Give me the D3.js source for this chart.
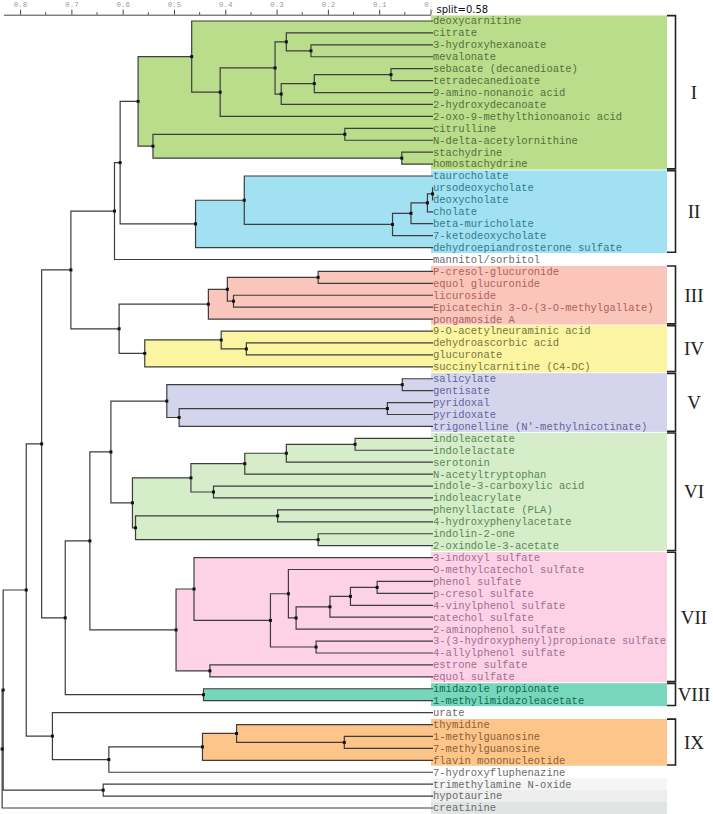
<!DOCTYPE html>
<html><head><meta charset="utf-8">
<script src="https://cdn.jsdelivr.net/npm/d3@7"></script>
<style>body{margin:0;background:#fff}svg{display:block}</style>
</head><body>
<svg id="chart" width="713" height="814"></svg>
<script>
// ---------- DATA ----------
const leaves = [
  "deoxycarnitine","citrate","3-hydroxyhexanoate","mevalonate","sebacate (decanedioate)",
  "tetradecanedioate","9-amino-nonanoic acid","2-hydroxydecanoate","2-oxo-9-methylthionoanoic acid",
  "citrulline","N-delta-acetylornithine","stachydrine","homostachydrine",
  "taurocholate","ursodeoxycholate","deoxycholate","cholate","beta-muricholate","7-ketodeoxycholate",
  "dehydroepiandrosterone sulfate","mannitol/sorbitol",
  "P-cresol-glucuronide","equol glucuronide","licuroside","Epicatechin 3-O-(3-O-methylgallate)","pongamoside A",
  "9-O-acetylneuraminic acid","dehydroascorbic acid","glucuronate","succinylcarnitine (C4-DC)",
  "salicylate","gentisate","pyridoxal","pyridoxate","trigonelline (N'-methylnicotinate)",
  "indoleacetate","indolelactate","serotonin","N-acetyltryptophan","indole-3-carboxylic acid",
  "indoleacrylate","phenyllactate (PLA)","4-hydroxyphenylacetate","indolin-2-one","2-oxindole-3-acetate",
  "3-indoxyl sulfate","O-methylcatechol sulfate","phenol sulfate","p-cresol sulfate","4-vinylphenol sulfate",
  "catechol sulfate","2-aminophenol sulfate","3-(3-hydroxyphenyl)propionate sulfate","4-allylphenol sulfate",
  "estrone sulfate","equol sulfate","imidazole propionate","1-methylimidazoleacetate","urate",
  "thymidine","1-methylguanosine","7-methylguanosine","flavin mononucleotide","7-hydroxyfluphenazine",
  "trimethylamine N-oxide","hypotaurine","creatinine"
];

// merges: [childA, childB, height]; number = leaf index, "mK" = merge K
const merges = [
  [4,5,0.077],        // m0
  ["m0",6,0.2265],    // m1
  ["m1",7,0.291],     // m2
  [2,3,0.233],        // m3
  [1,"m3",0.281],     // m4
  ["m4","m2",0.303],  // m5
  ["m5",8,0.410],     // m6
  [0,"m6",0.4655],    // m7
  [9,10,0.167],       // m8
  [11,12,0.056],      // m9
  ["m8","m9",0.541],  // m10
  ["m7","m10",0.570], // m11
  [14,15,-0.004],     // m12
  ["m12",16,0.006],   // m13
  ["m13",17,0.038],   // m14
  ["m14",18,0.074],   // m15
  [13,"m15",0.363],   // m16
  ["m16",19,0.458],   // m17
  ["m11","m17",0.605],// m18
  ["m18",20,0.616],   // m19
  [21,22,0.219],      // m20
  [23,24,0.384],      // m21
  ["m20","m21",0.396],// m22
  ["m22",25,0.433],   // m23
  [27,28,0.359],      // m24
  [26,"m24",0.408],   // m25
  ["m25",29,0.557],   // m26
  ["m23","m26",0.607],// m27
  ["m19","m27",0.701],// m28
  [30,31,0.055],      // m29
  [32,33,0.084],      // m30
  ["m30",34,0.490],   // m31
  ["m29","m31",0.514],// m32
  [35,36,0.147],      // m33
  ["m33",37,0.281],   // m34
  ["m34",38,0.362],   // m35
  [39,40,0.423],      // m36
  ["m35","m36",0.467],// m37
  [41,42,0.298],      // m38
  [43,44,0.219],      // m39
  ["m38","m39",0.575],// m40
  ["m37","m40",0.581],// m41
  ["m32","m41",0.623],// m42
  [47,48,0.104],      // m43
  ["m43",49,0.156],   // m44
  ["m44",50,0.196],   // m45
  ["m45",51,0.262],   // m46
  [46,"m46",0.277],   // m47
  [52,53,0.223],      // m48
  ["m47","m48",0.312],// m49
  [45,"m49",0.461],   // m50
  [54,55,0.430],      // m51
  ["m50","m51",0.496],// m52
  ["m42","m52",0.664],// m53
  [56,57,0.4425],     // m54
  ["m53","m54",0.712],// m55
  ["m28","m55",0.758],// m56
  [60,61,0.168],      // m57
  [59,"m57",0.378],   // m58
  ["m58",62,0.4445],  // m59
  ["m59",63,0.627],   // m60
  [58,"m60",0.737],   // m61
  ["m56","m61",0.788],// m62
  [64,65,0.638],      // m63
  ["m62","m63",0.833],// m64
  ["m64",66,0.835]    // m65
];

const clusterNames = ["I","II","III","IV","V","VI","VII","VIII","IX"];
const clusterFirst = [0,13,21,26,30,35,45,56,59];
const clusterLast  = [12,19,25,29,34,44,55,57,62];
const majorTicks = [0,0.1,0.2,0.3,0.4,0.5,0.6,0.7,0.8];
const minorTicks = [0.05,0.15,0.25,0.35,0.45,0.55,0.65,0.75];
const axisEnd = 0.8325;
const splitLabel = "split=0.58";
const grayRows = [64,65,66];

// ---------- STYLES ----------
const clusterFill = ["#badd8b","#a1e1f2","#fac6bb","#fbf5a1","#d4d5ed","#d6edca","#fdd2e6","#77d7bd","#fdc589"];
const clusterInk  = ["#55703a","#2f7d8c","#b0605e","#77773e","#64649c","#578957","#a06e94","#106c4c","#8c6137"];
const grayFill = ["#f5f5f3","#eceeee","#e1e4e4"];
const otherInk = "#6b6b6b";

// ---------- SCALES ----------
const svg = d3.select("#chart");
const x = d3.scaleLinear().domain([0,0.8]).range([430.5,20.1]);
const y = d3.scaleLinear().domain([0,leaves.length-1]).range([21,808]);
const leafX = 433, bgX0 = 431, bgX1 = 667;
const half = (y(1)-y(0))/2;

// cluster of a leaf
const clusterOf = i => clusterNames.findIndex((c,k)=> i>=clusterFirst[k] && i<=clusterLast[k]);

// compute positions
const pos = [];
function getPos(ref){
  if (typeof ref === "number") return {x:leafX, y:y(ref), min:ref, max:ref, leaf:true};
  return pos[+ref.slice(1)];
}
merges.forEach(([a,b,h],i)=>{
  const pa=getPos(a), pb=getPos(b);
  pos[i] = {x:x(h), y:(pa.y+pb.y)/2, a:pa, b:pb, min:Math.min(pa.min,pb.min), max:Math.max(pa.max,pb.max)};
});

// ---------- tree-area shading ----------
const gShade = svg.append("g");
pos.forEach(p=>{
  const k = clusterNames.findIndex((c,j)=> p.min>=clusterFirst[j] && p.max<=clusterLast[j]);
  if (k<0) return;
  gShade.append("rect")
    .attr("x", p.x).attr("y", Math.min(p.a.y,p.b.y))
    .attr("width", Math.max(0, bgX0+1 - p.x))
    .attr("height", Math.abs(p.b.y-p.a.y))
    .attr("fill", clusterFill[k]);
});

// ---------- label backgrounds ----------
const gBg = svg.append("g");
clusterNames.forEach((c,k)=>{
  gBg.append("rect")
    .attr("x", bgX0).attr("y", y(clusterFirst[k])-half+0.4)
    .attr("width", bgX1-bgX0)
    .attr("height", y(clusterLast[k])-y(clusterFirst[k])+2*half-0.9)
    .attr("fill", clusterFill[k]);
});
grayRows.forEach((r,k)=>{
  gBg.append("rect")
    .attr("x", bgX0).attr("y", y(r)-half)
    .attr("width", bgX1-bgX0).attr("height", 2*half)
    .attr("fill", grayFill[k]);
});

// ---------- tree lines ----------
const gLines = svg.append("g").attr("stroke","#3d3d3d").attr("stroke-width",1.2).attr("fill","none");
pos.forEach(p=>{
  const path = d3.path();
  path.moveTo(p.a.x, p.a.y); path.lineTo(p.x, p.a.y);
  path.lineTo(p.x, p.b.y); path.lineTo(p.b.x, p.b.y);
  gLines.append("path").attr("d", path.toString());
});

// node dots
svg.append("g").selectAll("rect").data(pos).join("rect")
  .attr("x", d=>d.x-1.5).attr("y", d=>d.y-1.5).attr("width",3).attr("height",3)
  .attr("fill","#111");

// ---------- leaf labels ----------
svg.append("g").selectAll("text").data(leaves).join("text")
  .attr("x", leafX).attr("y", (d,i)=>y(i)+3.4)
  .attr("font-family","'Liberation Mono','Courier New',monospace")
  .attr("font-size","10.5px")
  .attr("fill",(d,i)=>{ const k=clusterOf(i); return k<0?otherInk:clusterInk[k]; })
  .text(d=>d);

// ---------- brackets & numerals ----------
const gBr = svg.append("g");
clusterNames.forEach((c,k)=>{
  const y0 = y(clusterFirst[k])-half+0.6, y1 = y(clusterLast[k])+half-1.2;
  gBr.append("path")
    .attr("d", `M${bgX1},${y0}H675.5V${y1}H${bgX1}`)
    .attr("fill","none").attr("stroke","#222").attr("stroke-width",1.6);
  gBr.append("text")
    .attr("x", 694).attr("y", (y0+y1)/2).attr("dy","0.35em")
    .attr("text-anchor","middle")
    .attr("font-family","'Liberation Serif','Times New Roman',serif")
    .attr("font-size","19px").attr("fill","#222")
    .text(c);
});

// ---------- axis ----------
const xa = x.copy().domain([0,axisEnd]).range([x(0), x(axisEnd)]);
const gAxis = svg.append("g").attr("transform","translate(0,14.7)");
gAxis.call(d3.axisTop(xa).tickValues(majorTicks).tickSize(5).tickSizeOuter(0).tickFormat(d3.format(".1f")));
gAxis.select(".domain").attr("stroke","#444");
gAxis.selectAll(".tick line").attr("stroke","#444");
gAxis.selectAll(".tick text").attr("fill","#9a9a9a")
  .attr("font-family","'Liberation Mono',monospace").attr("font-size","7.5px").attr("dy","0.1em");
gAxis.selectAll(".minor").data(minorTicks).join("line").attr("class","minor")
  .attr("x1",d=>xa(d)).attr("x2",d=>xa(d)).attr("y1",0).attr("y2",-2.5)
  .attr("stroke","#444");

// split label with white backing
svg.append("rect").attr("x",432.5).attr("y",0).attr("width",62).attr("height",14).attr("fill","#fff");
svg.append("text").attr("x",436.5).attr("y",13.3)
  .attr("font-family","'DejaVu Sans',sans-serif").attr("font-size","10px").attr("fill","#111")
  .text(splitLabel);
</script>
</body></html>
